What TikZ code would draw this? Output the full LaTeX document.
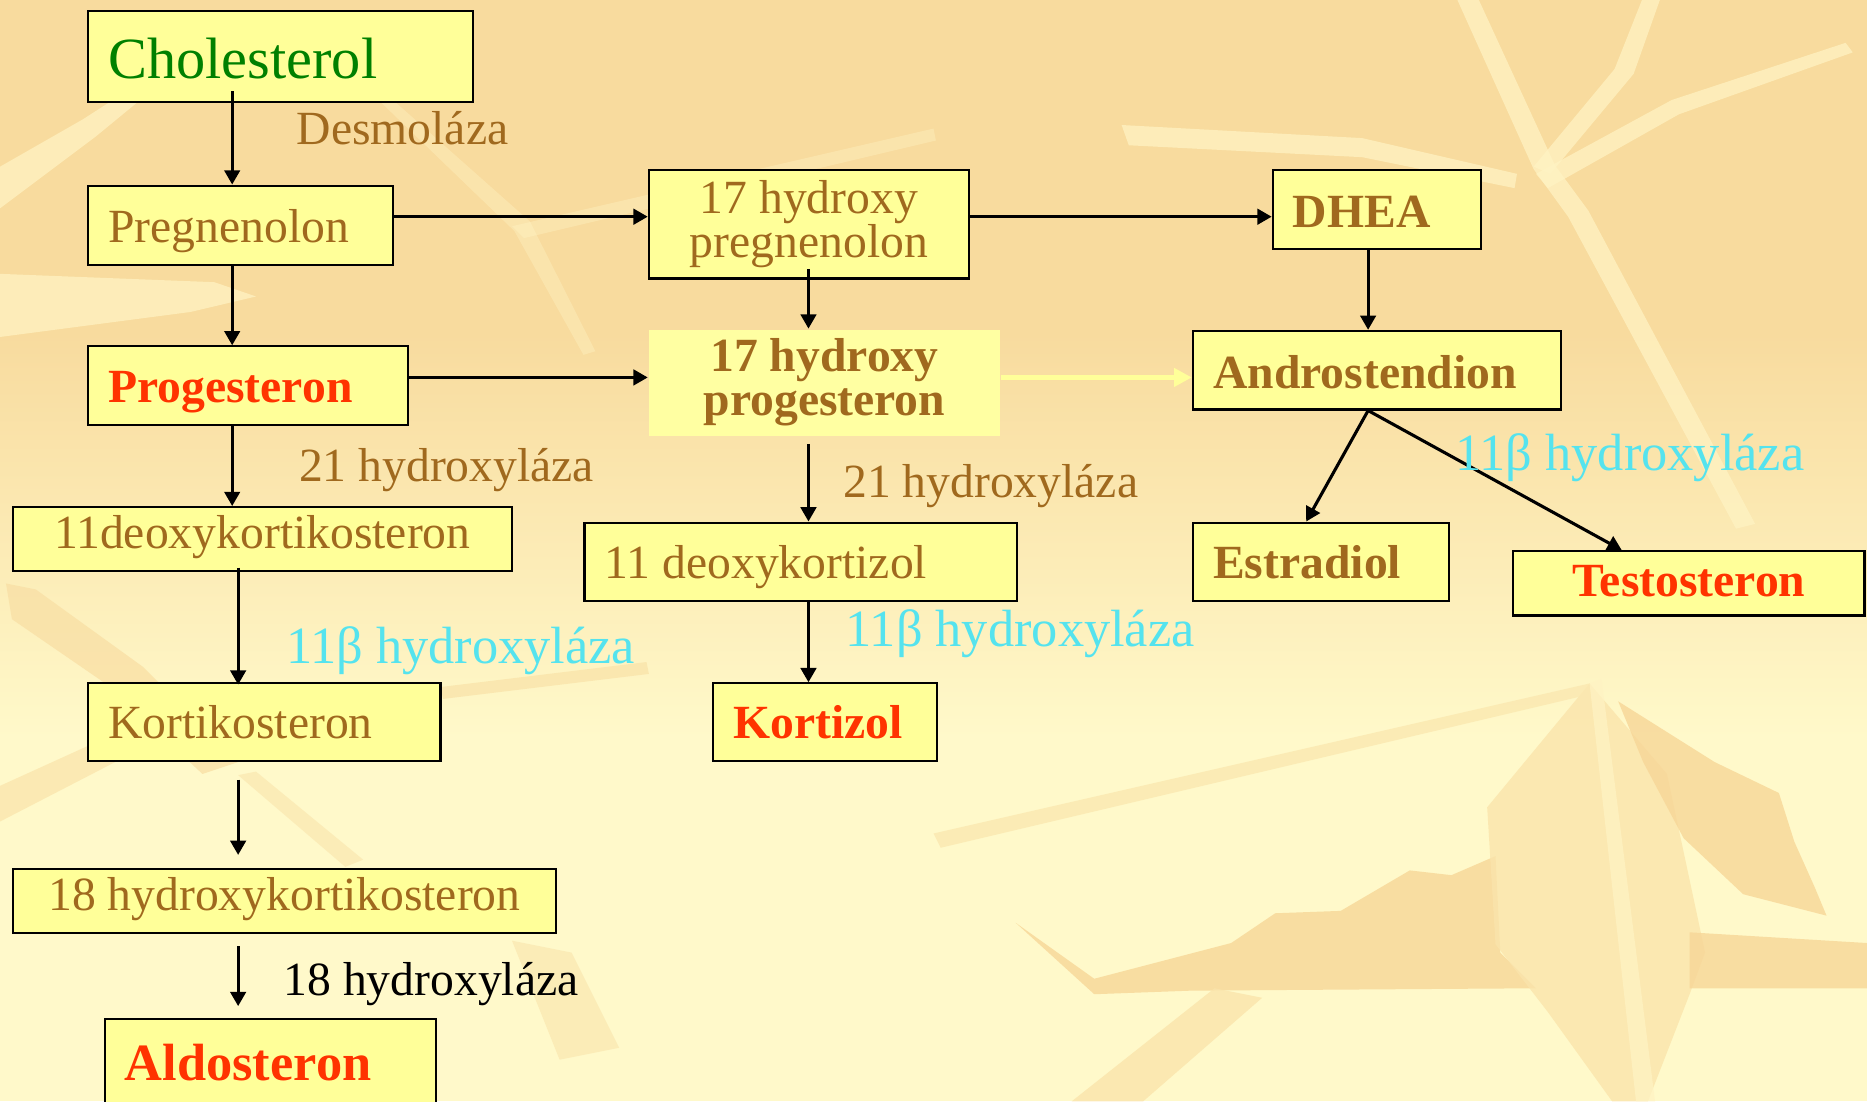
\documentclass[tikz,border=0pt]{standalone}
\usepackage{fontspec}
\setmainfont{Liberation Serif}
\usetikzlibrary{arrows.meta,calc}
\definecolor{bgA}{HTML}{F8DB9E}
\definecolor{bgB}{HTML}{FFF9CA}
\definecolor{bgLight}{HTML}{FFF3C3}
\definecolor{bgDark}{HTML}{F7D697}
\definecolor{boxfill}{HTML}{FFFF99}
\definecolor{boxfillB}{HTML}{FFFFA2}
\definecolor{brownt}{HTML}{A0691E}
\definecolor{redt}{HTML}{FF3300}
\definecolor{greent}{HTML}{008000}
\definecolor{cyant}{HTML}{55E3EE}
\newcommand\fsA{\fontsize{40}{36}\selectfont}
\newcommand\fsB{\fontsize{44}{44}\selectfont}
\newcommand\fsC{\fontsize{49}{49}\selectfont}
\begin{document}
\begin{tikzpicture}[x=1pt,y=-1pt,
  boxbase/.style={draw=black, line width=1.8pt, fill=boxfill, anchor=north west,
    inner xsep=17pt, inner ysep=0pt, text=brownt, font=\fsA},
  box/.style={boxbase, text height=29pt, text depth=1pt, align=flush left},
  arr/.style={line width=2.6pt, -{Triangle[length=12pt,width=13pt]}},
  yarr/.style={line width=4pt, draw=boxfill, -{Triangle[length=15pt,width=15pt]}},
  lbl/.style={anchor=base west, inner sep=0pt, font=\fsA, text=brownt},
  clbl/.style={anchor=base west, inner sep=0pt, font=\fsB, text=cyant}]
\useasboundingbox (0,0) rectangle (1568,925);
% ---------- background ----------
\fill[bgA] (0,0) rectangle (1568,925);
\shade[top color=bgA, bottom color=bgB] (0,280) rectangle (1568,620);
\fill[bgB] (0,619) rectangle (1568,925);
\begin{scope}[opacity=0.8]
% bottom right leaves
\fill[bgDark] (853,775) -- (919,822) -- (1034,792) -- (1071,767) -- (1126,765) -- (1184,731) -- (1219,735) -- (1256,719) -- (1260,800) -- (1290,830) -- (1000,832) -- (919,835) -- cycle;
\fill[bgDark!60!bgB] (1249,678) -- (1335,574) -- (1400,650) -- (1432,800) -- (1419,835) -- (1384,925) -- (1354,925) -- (1300,850) -- (1256,793) -- cycle;
\fill[bgDark] (1359,589) -- (1440,640) -- (1494,666) -- (1507,707) -- (1524,745) -- (1534,769) -- (1464,751) -- (1414,704) -- (1380,640) -- cycle;
\fill[bgDark] (1419,783) -- (1568,792) -- (1568,830) -- (1419,830) -- cycle;
\fill[bgDark!50!bgB] (784,700) -- (1335,574) -- (1340,582) -- (790,712) -- cycle;
\fill[bgDark!60!bgB] (900,925) -- (1020,830) -- (1060,838) -- (960,925) -- cycle;
% left side orange shapes
\fill[bgDark!70!bgB] (5,490) -- (30,495) -- (120,560) -- (200,640) -- (170,650) -- (90,575) -- (10,520) -- cycle;
\fill[bgDark!55!bgB] (0,660) -- (110,610) -- (230,600) -- (250,612) -- (120,628) -- (0,690) -- cycle;
\fill[bgDark!60!bgB] (370,577) -- (543,556) -- (545,566) -- (372,587) -- cycle;
\fill[bgDark!45!bgB] (200,651) -- (215,648) -- (305,722) -- (290,728) -- cycle;
\fill[bgDark!45!bgB] (430,790) -- (480,800) -- (520,880) -- (470,890) -- cycle;
\end{scope}
\begin{scope}[opacity=0.75]
% pale streaks
\fill[bgLight] (0,140) -- (70,100) -- (115,71) -- (125,78) -- (80,115) -- (0,175) -- cycle;
\fill[bgLight] (0,230) -- (180,237) -- (215,249) -- (160,262) -- (0,283) -- cycle;
\fill[bgLight] (1224,0) -- (1242,0) -- (1306,139) -- (1334,177) -- (1474,440) -- (1458,444) -- (1317,182) -- (1288,142) -- cycle;
\fill[bgLight] (1379,0) -- (1394,0) -- (1372,62) -- (1302,146) -- (1288,140) -- (1356,58) -- cycle;
\fill[bgLight] (1290,146) -- (1404,84) -- (1550,36) -- (1556,44) -- (1410,96) -- (1300,158) -- cycle;
\fill[bgLight] (942,105) -- (1144,116) -- (1274,146) -- (1272,158) -- (1144,132) -- (948,122) -- cycle;
\fill[bgLight] (1335,574) -- (1345,570) -- (1390,925) -- (1374,925) -- cycle;
\end{scope}
\begin{scope}[opacity=0.4]
\fill[bgLight] (320,86) -- (330,84) -- (445,186) -- (500,295) -- (490,298) -- (432,194) -- cycle;
\fill[bgLight] (430,190) -- (784,108) -- (786,118) -- (440,200) -- cycle;
\end{scope}
% ---------- column / row helpers ----------
\coordinate (c1) at (195,0);
\coordinate (c2) at (200,0);
\coordinate (c3) at (679,0);
\coordinate (c4) at (1149,0);
\coordinate (e1) at (1097,0);
\coordinate (t1) at (1362,0);
\coordinate (r1) at (0,182);
\coordinate (r2) at (0,317);
% ---------- boxes ----------
\node[box, minimum width=323pt, minimum height=77pt, text width=289pt, font=\fsC, text=greent, text height=38pt] (chol) at (73,8) {Cholesterol};
\node[box, minimum width=256pt, minimum height=67pt, text width=222pt] (preg) at (73,155) {Pregnenolon};
\node[box, minimum width=269pt, minimum height=66pt, text width=235pt, text=redt, font=\fsA\bfseries] (prog) at (73,290) {Progesteron};
\node[box, minimum width=419pt, minimum height=54pt, text width=385pt, align=flush center, text height=17pt] (doc) at (10,425) {11deoxykortikosteron};
\node[box, minimum width=296pt, minimum height=65pt, text width=262pt] (kort) at (73,573) {Kortikosteron};
\node[box, minimum width=456pt, minimum height=54pt, text width=422pt, align=flush center, text height=17pt] (h18) at (10,729) {18 hydroxykortikosteron};
\node[box, minimum width=278pt, minimum height=74pt, text width=244pt, text=redt, font=\fsB\bfseries, text height=30pt] (aldo) at (87,855) {Aldosteron};
\node[boxbase, minimum width=269pt, minimum height=91pt, text width=235pt, align=flush center] (hp17) at (544,142) {17 hydroxy\\pregnenolon};
\node[boxbase, draw=none, fill=boxfillB, minimum width=295pt, minimum height=89pt, text width=261pt, align=flush center, font=\fontsize{40}{37}\selectfont\bfseries] (hprog) at (544,276) {17 hydroxy\\progesteron};
\node[box, minimum width=363pt, minimum height=66pt, text width=329pt] (dkz) at (490,438) {11 deoxykortizol};
\node[box, minimum width=188pt, minimum height=65pt, text width=154pt, text=redt, font=\fsA\bfseries] (kortz) at (598,573) {Kortizol};
\node[box, minimum width=175pt, minimum height=66pt, text width=141pt, font=\fsA\bfseries, text height=31pt] (dhea) at (1068,142) {DHEA};
\node[box, minimum width=309pt, minimum height=66pt, text width=275pt, font=\fsA\bfseries, text height=31pt] (andro) at (1001,277) {Androstendion};
\node[box, minimum width=215pt, minimum height=66pt, text width=181pt, font=\fsA\bfseries] (estr) at (1001,438) {Estradiol};
\node[box, minimum width=295pt, minimum height=54pt, text width=261pt, align=flush center, text=redt, font=\fsA\bfseries, text height=23pt] (testo) at (1270,462) {Testosteron};
% ---------- connectors ----------
\draw[arr] ($(chol.south -| c1)+(0,-10)$) -- (preg.north -| c1);
\draw[arr] (preg.south -| c1) -- (prog.north -| c1);
\draw[arr] (prog.south -| c1) -- (doc.north -| c1);
\draw[arr] ($(doc.south -| c2)+(0,-4)$) -- ($(kort.north -| c2)+(0,2)$);
\draw[arr] ($(kort.south -| c2)+(0,15)$) -- ($(h18.north -| c2)+(0,-11)$);
\draw[arr] ($(h18.south -| c2)+(0,10)$) -- ($(aldo.north -| c2)+(0,-10)$);
\draw[arr] (preg.east |- r1) -- (hp17.west |- r1);
\draw[arr] (hp17.east |- r1) -- (dhea.west |- r1);
\draw[arr] ($(hp17.south -| c3)+(0,-9)$) -- (hprog.north -| c3);
\draw[arr] (prog.east |- r2) -- (hprog.west |- r2);
\draw[yarr] (hprog.east |- r2) -- (andro.west |- r2);
\draw[arr] ($(hprog.south -| c3)+(0,6)$) -- (dkz.north -| c3);
\draw[arr] (dkz.south -| c3) -- (kortz.north -| c3);
\draw[arr] (dhea.south -| c4) -- (andro.north -| c4);
\draw[arr] (andro.south -| c4) -- (estr.north -| e1);
\draw[arr] (andro.south -| c4) -- (testo.north -| t1);
% ---------- enzyme labels ----------
\node[lbl] (l1) at (249,121) {Desmoláza};
\node[lbl] (l2) at (251,404) {21 hydroxyláza};
\node[lbl] (l3) at (708,418) {21 hydroxyláza};
\node[clbl] (l4) at (240,557) {11β hydroxyláza};
\node[clbl] (l5) at (710,543) {11β hydroxyláza};
\node[clbl] (l6) at (1222,395) {11β hydroxyláza};
\node[lbl, text=black] (l7) at (238,836) {18 hydroxyláza};
\end{tikzpicture}
\end{document}
